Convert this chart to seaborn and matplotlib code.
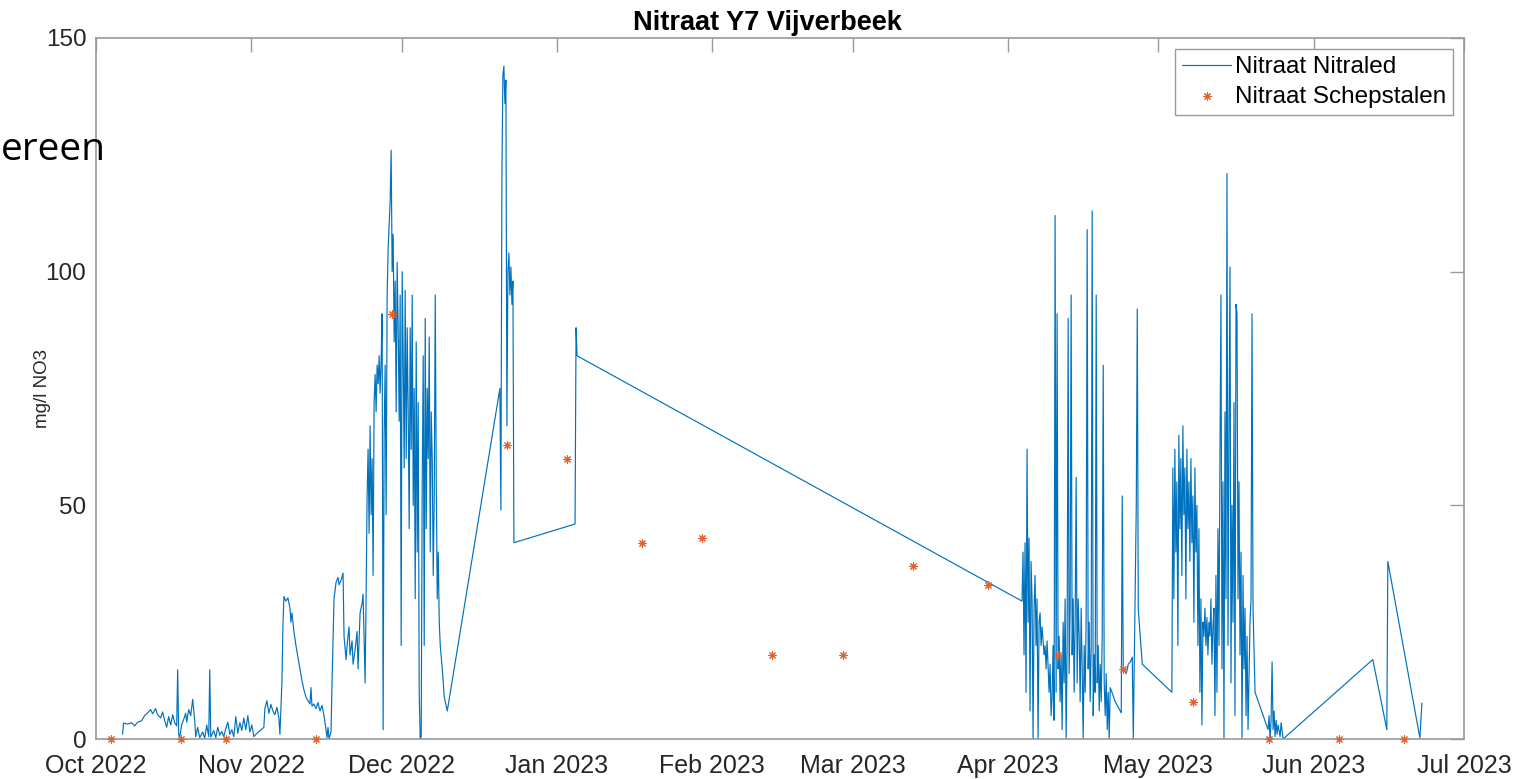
import matplotlib
matplotlib.use("Agg")
import matplotlib.pyplot as plt
import matplotlib.dates as mdates
import pandas as pd
import seaborn as sns

# Logger readings: time in days since 1 Oct 2022 00:00, nitrate in mg/l NO3
START = "2022-10-01"
nitraled_dag = [
    # October - mid November
    5.3, 5.5, 6.3, 7.1, 7.7, 8.3, 9.1, 9.7, 10.3, 10.9, 11.3, 11.9, 12.3, 12.9,
    13.3, 13.7, 14.1, 14.5, 14.9, 15.3, 15.7, 16.1, 16.3, 16.5, 16.7, 17.1, 17.5,
    17.9, 18.1, 18.5, 18.9, 19.3, 19.7, 19.9, 20.3, 20.7, 21.3, 21.7, 22.1, 22.5,
    22.7, 22.9, 23.5, 23.9, 24.3, 24.7, 25.1, 25.5, 25.9, 26.3, 26.7, 27.1, 27.5,
    27.9, 28.3, 28.7, 29.1, 29.5, 29.9, 30.3, 30.7, 31.1, 31.5, 31.9, 33.5, 33.7,
    34.1, 34.5, 34.9, 35.3, 35.7, 36.1, 36.5, 36.7, 37.1, 37.3, 37.5, 37.9, 38.3,
    38.7, 38.9, 39.1, 39.5, 39.9, 40.3, 40.7, 41.1, 41.5, 41.9, 42.3, 42.7, 42.9,
    43.1, 43.5, 43.9, 44.3, 44.7, 45.1, 45.5, 45.9, 46.1, 46.3, 46.5, 46.9, 47.1,
    47.5, 47.9, 48.3, 48.5, 48.9, 49.3, 49.5, 49.9, 50.1, 50.5, 50.7, 51.1, 51.3,
    51.7, 52.1, 52.3, 52.7, 53.1, 53.3, 53.5, 53.7,
    # late November - early December
    53.9, 54.1, 54.3, 54.5, 54.7, 54.9, 55.1, 55.3, 55.5, 55.7, 55.9, 56.1, 56.3,
    56.5, 56.7, 56.9, 57.1, 57.3, 57.5, 57.7, 57.9, 58.1, 58.3, 58.5, 58.7, 58.9,
    59.1, 59.3, 59.5, 59.7, 59.9, 60.1, 60.3, 60.5, 60.7, 60.9, 61.1, 61.3, 61.5,
    61.7, 61.9, 62.1, 62.3, 62.5, 62.7, 62.9, 63.1, 63.3, 63.5, 63.7, 63.9, 64.1,
    64.3, 64.5, 64.7, 64.9, 65.1, 65.3, 65.5, 65.7, 65.9, 66.1, 66.3, 66.5, 66.7,
    66.9, 67.1, 67.3, 67.5, 67.7, 67.9, 68.1, 68.3, 68.5, 68.7, 69.1, 69.5, 70.1,
    # late December - early January
    80.6, 80.8, 81.0, 81.2, 81.4, 81.6, 81.8, 82.0, 82.2, 82.4, 82.6, 82.8, 83.0,
    83.2, 83.4, 95.6, 95.8, 96.0,
    # April
    184.8, 185.0, 185.2, 185.4, 185.6, 185.8, 186.0, 186.2, 186.4, 186.6, 186.8,
    187.0, 187.2, 187.4, 187.6, 187.8, 188.0, 188.2, 188.4, 188.6, 188.8, 189.2,
    189.4, 189.6, 189.8, 190.2, 190.4, 190.6, 190.8, 191.0, 191.2, 191.4, 191.6,
    191.8, 192.0, 192.2, 192.4, 192.6, 192.8, 193.0, 193.2, 193.4, 193.6, 193.8,
    194.0, 194.2, 194.4, 194.6, 194.8, 195.0, 195.2, 195.4, 195.6, 195.8, 196.0,
    196.2, 196.4, 196.6, 196.8, 197.0, 197.2, 197.4, 197.6, 197.8, 198.0, 198.2,
    198.4, 198.6, 198.8, 199.0, 199.2, 199.4, 199.6, 199.8, 200.0, 200.2, 200.4,
    200.6, 200.8, 201.0, 201.2, 201.4, 201.6, 201.8, 202.0, 202.2, 202.4, 203.4,
    204.6, 204.8, 205.0, 205.6, 206.0, 206.4, 206.8, 207.0, 207.6, 207.8, 208.0,
    208.8,
    # May
    214.7, 214.9, 215.1, 215.3, 215.5, 215.7, 215.9, 216.1, 216.3, 216.5, 216.7,
    216.9, 217.1, 217.3, 217.5, 217.7, 217.9, 218.1, 218.3, 218.5, 218.7, 218.9,
    219.1, 219.3, 219.5, 219.7, 219.9, 220.1, 220.3, 220.5, 220.7, 220.9, 221.1,
    221.3, 221.5, 221.7, 221.9, 222.1, 222.3, 222.5, 222.7, 222.9, 223.1, 223.3,
    223.5, 223.7, 223.9, 224.1, 224.3, 224.5, 224.7, 224.9, 225.1, 225.3, 225.5,
    225.7, 225.9, 226.1, 226.3, 226.5, 226.7, 226.9, 227.1, 227.3, 227.5, 227.7,
    227.9, 228.1, 228.3, 228.5, 228.7, 228.9, 229.1, 229.3, 229.5, 229.7, 229.9,
    230.3, 230.5, 230.7, 230.9, 231.3, 233.9, 234.1, 234.3, 234.5, 234.7, 234.9,
    235.1, 235.3, 235.5, 235.7, 235.9, 236.3, 236.5, 236.9,
    # June
    254.8, 257.6, 257.8, 264.2, 264.6,
]
nitraled_no3 = [
    # October - mid November
    1.0, 3.4, 3.2, 3.5, 2.8, 3.6, 3.9, 5.0, 5.6, 6.3, 5.4, 6.5, 5.2, 4.5,
    5.8, 4.0, 2.5, 4.8, 3.0, 5.2, 3.5, 2.8, 14.8, 1.0, 0.3, 3.0, 4.2,
    5.5, 3.6, 6.3, 5.0, 8.5, 4.0, 0.5, 2.5, 0.3, 1.5, 0.2, 3.0, 0.5,
    14.8, 0.4, 1.8, 0.3, 2.5, 0.8, 1.6, 0.5, 2.2, 3.6, 1.0, 2.0, 0.5,
    4.8, 1.2, 3.5, 1.8, 4.5, 2.0, 5.0, 1.5, 3.0, 0.5, 1.0, 2.5, 6.5,
    8.2, 5.5, 7.4, 6.0, 5.2, 6.8, 4.5, 1.0, 12.0, 24.0, 30.5, 29.5, 30.2,
    28.0, 25.0, 27.0, 23.0, 20.0, 17.5, 15.0, 12.5, 10.5, 9.0, 8.2, 7.5, 11.0,
    7.0, 7.5, 6.5, 7.8, 6.0, 7.2, 5.0, 2.0, 0.3, 2.5, 0.0, 1.5, 12.0,
    30.0, 33.5, 34.6, 33.0, 34.0, 35.5, 22.0, 17.0, 20.0, 24.0, 18.0, 21.0, 16.0,
    19.0, 23.0, 15.0, 27.0, 29.0, 31.0, 21.0, 12.0,
    # late November - early December
    30, 52, 62, 44, 67, 48, 60, 35, 72, 78, 70, 80, 76,
    82, 74, 81, 91, 2, 65, 80, 48, 95, 105, 110, 115, 126,
    100, 108, 85, 98, 70, 102, 88, 68, 95, 20, 100, 82, 58,
    96, 60, 88, 70, 45, 88, 62, 95, 50, 75, 30, 85, 40,
    72, 10, 0, 0.5, 55, 82, 20, 90, 45, 75, 60, 86, 40,
    70, 60, 35, 52, 95, 55, 30, 40, 25, 20, 15, 9, 6,
    # late December - early January
    75, 49, 120, 142, 144, 136, 141, 67, 100, 104, 95, 101, 93,
    98, 42, 46, 88, 82,
    # April
    29.5, 40, 18, 42, 10, 62, 25, 43, 6, 38, 30,
    0, 28, 35, 20, 30, 0, 25, 27, 20, 24, 18,
    20, 15, 21, 10, 16, 5, 9, 20, 4, 112, 10,
    91, 15, 22, 8, 18, 2, 25, 12, 30, 0, 20,
    90, 14, 28, 95, 18, 30, 10, 25, 56, 12, 30,
    22, 8, 28, 15, 0, 20, 10, 26, 109, 15, 25,
    8, 20, 113, 5, 18, 10, 95, 12, 20, 6, 16,
    8, 22, 80, 12, 5, 14, 2, 10, 0, 11, 8,
    5.6, 52, 15, 14, 16, 16.5, 17.5, 0, 50, 92, 27.6,
    16,
    # May
    10, 58, 30, 62, 40, 55, 20, 65, 45, 60, 35,
    67, 48, 58, 30, 62, 45, 55, 38, 60, 42, 52,
    25, 58, 40, 50, 20, 45, 10, 30, 3, 25, 22,
    28, 20, 26, 18, 25, 22, 30, 16, 24, 28, 5,
    35, 10, 45, 20, 60, 95, 15, 55, 0, 70, 30,
    121, 20, 65, 101, 12, 50, 25, 72, 5, 93, 91,
    30, 55, 18, 40, 0, 35, 15, 28, 5, 22, 2,
    25, 30, 91, 28, 10, 2, 5, 0, 4, 16.5, 2,
    6, 0.5, 4, 1, 3, 0.5, 3.5, 0,
    # June
    17, 2, 38, 0.2, 7.7,
]

# Grab samples (schepstalen)
schep_datum = [
    "2022-10-04", "2022-10-18", "2022-10-27", "2022-11-14", "2022-11-29",
    "2022-12-22", "2023-01-03", "2023-01-18", "2023-01-30", "2023-02-13",
    "2023-02-27", "2023-03-13", "2023-03-28", "2023-04-11", "2023-04-24",
    "2023-05-08", "2023-05-23", "2023-06-06", "2023-06-19",
]
schep_no3 = [0, 0, 0, 0, 91, 63, 60, 42, 43, 18, 18, 37, 33, 18, 15, 8, 0, 0, 0]

y_ticks = [0, 50, 100, 150]

sns.set_theme(style="white")
plt.rcParams["font.family"] = ["Liberation Sans", "DejaVu Sans"]

nitraled = pd.DataFrame({
    "tijd": pd.Timestamp(START) + pd.to_timedelta(nitraled_dag, unit="D"),
    "no3": nitraled_no3,
})
schep = pd.DataFrame({"tijd": pd.to_datetime(schep_datum), "no3": schep_no3})

AX_GREY = "#9a9a9a"
TXT = "#262626"

fig = plt.figure(figsize=(15.37, 7.79), dpi=100)
ax = fig.add_axes([96 / 1537, 40 / 779, 1368 / 1537, 701 / 779])

sns.lineplot(data=nitraled, x="tijd", y="no3", ax=ax, sort=False, estimator=None,
             color="#0072BD", linewidth=0.85, label="Nitraat Nitraled")
sns.scatterplot(data=schep, x="tijd", y="no3", ax=ax, color="#E0622A",
                marker=(8, 2, 0), s=28, linewidth=0.8, clip_on=False, zorder=4,
                label="Nitraat Schepstalen")

ax.set_xlim(pd.Timestamp("2022-10-01"), pd.Timestamp("2023-07-01"))
ax.set_ylim(0, 150)
ax.set_yticks(y_ticks)
ax.xaxis.set_major_locator(mdates.MonthLocator())
ax.xaxis.set_major_formatter(mdates.DateFormatter("%b %Y"))

for side in ["left", "right", "top", "bottom"]:
    ax.spines[side].set_visible(True)
    ax.spines[side].set_color(AX_GREY)
    ax.spines[side].set_linewidth(1.2)
ax.tick_params(axis="both", direction="in", length=10, width=1, color=AX_GREY,
               labelcolor=TXT, top=True, right=True)
ax.tick_params(axis="x", labelsize=18, pad=11)
ax.tick_params(axis="y", labelsize=17.5, pad=7)

ax.set_xlabel("")
ax.set_ylabel("mg/l NO3", fontsize=13.5, color=TXT, labelpad=-4)
ax.set_title("Nitraat Y7 Vijverbeek", fontsize=19.5, fontweight="bold", color="black",
             pad=6, x=0.491)

leg = ax.legend(loc="upper right", fontsize=17.5, frameon=True, fancybox=False,
                edgecolor=AX_GREY, framealpha=1, borderpad=0.3, labelspacing=0.3,
                handlelength=2.0, handletextpad=0.15, borderaxespad=0.45)
leg.get_frame().set_linewidth(1.0)
for t in leg.get_texts():
    t.set_color("black")

fig.text(0.5 / 1537, 1 - 160 / 779, "ereen", ha="left", va="baseline",
         fontsize=28, color="black", family=["Open Sans", "DejaVu Sans"])

fig.savefig("out.png", dpi=100)
